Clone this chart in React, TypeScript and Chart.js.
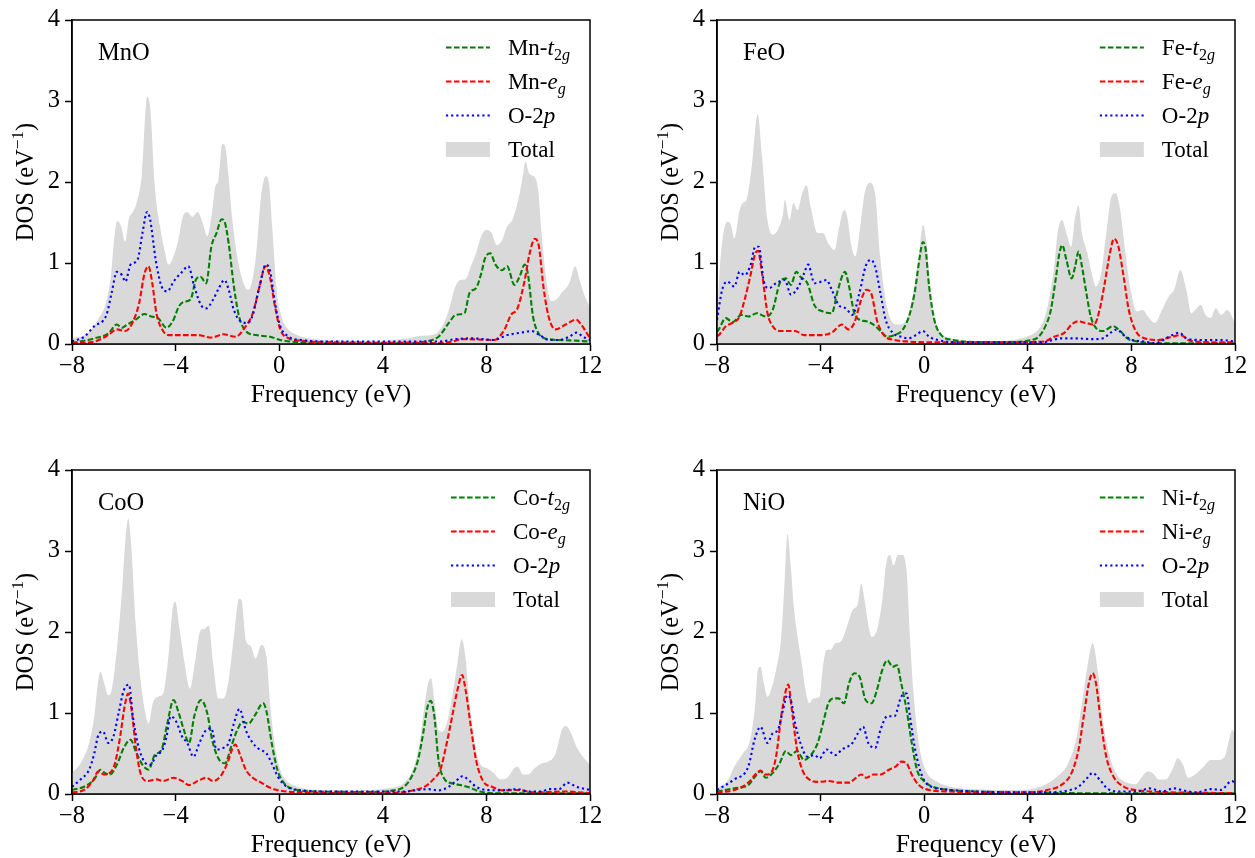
import React, { useEffect, useRef } from 'react';
import { Chart, registerables } from 'chart.js';
Chart.register(...registerables);

const FONT = "'Liberation Serif', 'Times New Roman', serif";

type Pair = [number, number];

// ---------------- MnO ----------------
const mnoT2g: Pair[] = [[-8,0.01],[-7.14,0.07],[-6.6,0.13],[-6.27,0.24],[-6.07,0.2],[-5.87,0.24],[-5.54,0.3],[-5.2,0.37],[-4.94,0.34],[-4.68,0.32],[-4.35,0.2],[-4.08,0.3],[-3.88,0.46],[-3.68,0.52],[-3.42,0.55],[-3.22,0.79],[-3.04,0.83],[-2.82,0.75],[-2.62,1.2],[-2.42,1.37],[-2.22,1.54],[-2.09,1.49],[-1.95,1.24],[-1.75,0.71],[-1.55,0.34],[-1.29,0.16],[-0.89,0.11],[-0.36,0.09],[0.04,0.05],[0.84,0.02],[3,0.01],[5.0,0.015],[5.62,0.03],[6.15,0.09],[6.55,0.26],[6.82,0.36],[7.15,0.38],[7.35,0.63],[7.6,0.69],[7.8,0.87],[7.95,1.06],[8.15,1.12],[8.35,0.98],[8.6,0.91],[8.8,0.96],[9.08,0.73],[9.28,0.83],[9.48,0.98],[9.6,0.87],[9.8,0.34],[10.0,0.14],[10.4,0.06],[11.2,0.045],[12,0.03]];
const mnoEg: Pair[] = [[-8,0.01],[-7.14,0.03],[-6.6,0.11],[-6.27,0.18],[-5.94,0.16],[-5.67,0.26],[-5.41,0.5],[-5.2,0.87],[-5.05,0.96],[-4.9,0.75],[-4.74,0.38],[-4.48,0.16],[-4.21,0.11],[-3.15,0.11],[-2.62,0.08],[-2.15,0.12],[-1.69,0.09],[-1.29,0.22],[-1.02,0.38],[-0.76,0.71],[-0.53,0.96],[-0.36,0.83],[-0.16,0.46],[0.04,0.18],[0.37,0.07],[0.84,0.04],[2,0.02],[5,0.015],[6.15,0.01],[6.68,0.03],[7.08,0.06],[8.3,0.05],[8.7,0.18],[8.95,0.36],[9.2,0.44],[9.48,0.79],[9.67,1.12],[9.87,1.3],[10.03,1.2],[10.2,0.71],[10.4,0.34],[10.67,0.18],[11.06,0.24],[11.47,0.3],[11.66,0.24],[12,0.07]];
const mnoO2p: Pair[] = [[-8,0.03],[-7.53,0.09],[-7.14,0.22],[-6.67,0.36],[-6.47,0.63],[-6.27,0.89],[-6.07,0.85],[-5.94,0.77],[-5.74,0.98],[-5.47,1.04],[-5.28,1.37],[-5.1,1.63],[-4.98,1.53],[-4.77,1.04],[-4.54,0.71],[-4.32,0.65],[-4.08,0.77],[-3.75,0.89],[-3.51,0.96],[-3.28,0.71],[-3.02,0.48],[-2.82,0.44],[-2.55,0.55],[-2.33,0.69],[-2.11,0.79],[-1.95,0.67],[-1.75,0.42],[-1.49,0.28],[-1.22,0.26],[-1.02,0.36],[-0.76,0.71],[-0.52,0.98],[-0.36,0.91],[-0.16,0.5],[0.04,0.22],[0.37,0.09],[0.84,0.05],[2.17,0.03],[6.15,0.03],[6.82,0.06],[7.48,0.07],[8.28,0.05],[8.8,0.11],[9.34,0.14],[9.74,0.16],[10.06,0.11],[10.4,0.05],[10.8,0.05],[11.2,0.09],[11.47,0.14],[11.73,0.09],[12,0.05]];
const mnoTotal: Pair[] = [[-8,0.07],[-7.4,0.13],[-7.0,0.3],[-6.7,0.5],[-6.5,0.83],[-6.35,1.37],[-6.25,1.52],[-6.1,1.45],[-5.95,1.26],[-5.8,1.55],[-5.65,1.63],[-5.5,1.75],[-5.3,2.1],[-5.1,3.05],[-4.98,2.92],[-4.8,1.94],[-4.6,1.45],[-4.4,1.12],[-4.28,0.98],[-4.08,1.08],[-3.9,1.28],[-3.72,1.57],[-3.55,1.63],[-3.35,1.57],[-3.15,1.63],[-2.95,1.49],[-2.78,1.33],[-2.6,1.61],[-2.47,1.94],[-2.35,2.02],[-2.2,2.47],[-2.08,2.43],[-1.95,2.06],[-1.82,1.57],[-1.62,1.08],[-1.42,0.79],[-1.22,0.67],[-1.1,0.71],[-0.9,1.08],[-0.7,1.82],[-0.52,2.07],[-0.4,2.0],[-0.27,1.45],[-0.1,0.67],[0.05,0.38],[0.3,0.2],[0.7,0.11],[1.1,0.07],[2.2,0.045],[3.5,0.03],[4.4,0.05],[5.0,0.07],[5.4,0.1],[5.9,0.11],[6.3,0.22],[6.55,0.42],[6.8,0.71],[7.0,0.79],[7.2,0.8],[7.4,0.96],[7.6,1.12],[7.8,1.33],[8.0,1.41],[8.2,1.37],[8.4,1.22],[8.6,1.28],[8.8,1.45],[9.0,1.53],[9.2,1.74],[9.4,2.06],[9.5,2.25],[9.66,2.1],[9.87,2.06],[10.0,1.9],[10.13,1.37],[10.33,0.75],[10.5,0.53],[10.7,0.55],[10.9,0.63],[11.2,0.75],[11.43,0.96],[11.6,0.79],[11.8,0.59],[12,0.46]];

// ---------------- FeO ----------------
const feoT2g: Pair[] = [[-8,0.15],[-7.93,0.18],[-7.66,0.32],[-7.4,0.27],[-7.06,0.36],[-6.79,0.34],[-6.46,0.38],[-6.12,0.34],[-5.85,0.42],[-5.58,0.75],[-5.34,0.81],[-5.15,0.73],[-4.94,0.89],[-4.78,0.83],[-4.51,0.75],[-4.24,0.48],[-3.9,0.4],[-3.57,0.38],[-3.33,0.67],[-3.06,0.89],[-2.9,0.71],[-2.7,0.38],[-2.5,0.3],[-2.23,0.28],[-1.96,0.24],[-1.69,0.16],[-1.42,0.09],[-1.15,0.11],[-0.82,0.18],[-0.55,0.38],[-0.35,0.67],[-0.17,1.08],[-0.05,1.26],[0.05,1.18],[0.19,0.71],[0.39,0.3],[0.66,0.11],[1.13,0.05],[2.07,0.025],[3.4,0.025],[4.08,0.045],[4.42,0.09],[4.68,0.22],[4.89,0.42],[5.09,0.83],[5.22,1.12],[5.33,1.22],[5.49,1.04],[5.69,0.81],[5.83,0.96],[5.96,1.14],[6.09,0.96],[6.26,0.63],[6.43,0.34],[6.63,0.2],[6.9,0.16],[7.3,0.22],[7.57,0.16],[7.84,0.07],[8.24,0.03],[8.78,0.01],[12,0.01]];
const feoEg: Pair[] = [[-8,0.1],[-7.93,0.11],[-7.66,0.22],[-7.4,0.26],[-7.13,0.34],[-6.93,0.55],[-6.72,0.83],[-6.52,1.12],[-6.42,1.15],[-6.26,0.87],[-6.05,0.38],[-5.85,0.22],[-5.58,0.16],[-4.98,0.16],[-4.64,0.11],[-3.97,0.11],[-3.57,0.14],[-3.17,0.24],[-2.93,0.18],[-2.7,0.26],[-2.43,0.55],[-2.23,0.67],[-2.03,0.61],[-1.83,0.3],[-1.56,0.11],[-1.15,0.05],[-0.62,0.03],[0.72,0.02],[3.4,0.02],[3.95,0.025],[4.62,0.03],[5.02,0.09],[5.42,0.14],[5.69,0.24],[5.93,0.28],[6.23,0.26],[6.56,0.24],[6.77,0.42],[6.97,0.75],[7.17,1.12],[7.33,1.3],[7.5,1.2],[7.7,0.83],[7.9,0.42],[8.17,0.16],[8.51,0.07],[9.05,0.05],[9.58,0.09],[9.92,0.11],[10.19,0.05],[10.8,0.025],[12,0.02]];
const feoO2p: Pair[] = [[-8,0.3],[-7.8,0.67],[-7.6,0.77],[-7.33,0.71],[-7.13,0.89],[-6.93,0.85],[-6.72,0.96],[-6.52,1.2],[-6.39,1.2],[-6.19,0.77],[-5.99,0.69],[-5.72,0.75],[-5.38,0.79],[-5.15,0.61],[-4.85,0.71],[-4.64,0.87],[-4.48,0.98],[-4.24,0.75],[-3.97,0.77],[-3.77,0.79],[-3.57,0.67],[-3.3,0.48],[-3.03,0.44],[-2.77,0.36],[-2.5,0.63],[-2.26,0.96],[-2.07,1.04],[-1.9,0.96],[-1.69,0.63],[-1.49,0.3],[-1.22,0.14],[-0.89,0.09],[-0.62,0.07],[-0.32,0.11],[-0.05,0.16],[0.19,0.09],[0.59,0.045],[1.4,0.02],[4.5,0.02],[4.75,0.03],[5.29,0.07],[5.83,0.07],[6.5,0.06],[6.9,0.07],[7.2,0.14],[7.44,0.18],[7.7,0.11],[8.04,0.05],[8.51,0.03],[8.91,0.01],[9.45,0.09],[9.85,0.14],[10.12,0.07],[10.66,0.05],[11.46,0.05],[12,0.03]];
const feoTotal: Pair[] = [[-8,0.3],[-7.87,1.04],[-7.6,1.51],[-7.46,1.47],[-7.33,1.3],[-7.13,1.65],[-7.0,1.74],[-6.86,1.78],[-6.66,2.19],[-6.43,2.84],[-6.26,2.31],[-6.05,1.53],[-5.85,1.35],[-5.65,1.41],[-5.45,1.61],[-5.38,1.78],[-5.2,1.53],[-5.05,1.74],[-4.89,1.65],[-4.71,1.86],[-4.54,1.96],[-4.38,1.69],[-4.11,1.37],[-3.91,1.37],[-3.7,1.24],[-3.46,1.16],[-3.3,1.41],[-3.1,1.65],[-2.97,1.57],[-2.83,1.24],[-2.66,1.08],[-2.5,1.37],[-2.3,1.86],[-2.1,1.99],[-1.9,1.86],[-1.7,1.08],[-1.49,0.55],[-1.29,0.3],[-1.02,0.24],[-0.68,0.3],[-0.42,0.63],[-0.21,1.08],[-0.05,1.47],[0.08,1.28],[0.26,0.59],[0.46,0.26],[0.72,0.11],[1.26,0.06],[2.07,0.03],[3.4,0.05],[3.95,0.09],[4.35,0.16],[4.62,0.3],[4.82,0.55],[5.02,0.96],[5.15,1.37],[5.32,1.53],[5.49,1.37],[5.67,1.2],[5.83,1.57],[5.96,1.71],[6.09,1.37],[6.3,1.12],[6.47,0.87],[6.63,0.71],[6.83,0.87],[7.03,1.37],[7.23,1.82],[7.4,1.86],[7.57,1.65],[7.77,1.12],[7.97,0.67],[8.21,0.4],[8.44,0.42],[8.64,0.34],[8.91,0.26],[9.18,0.42],[9.45,0.59],[9.65,0.67],[9.89,0.91],[10.12,0.67],[10.32,0.38],[10.52,0.44],[10.68,0.48],[10.86,0.36],[11.06,0.32],[11.26,0.44],[11.46,0.36],[11.7,0.42],[12,0.26]];

// ---------------- CoO ----------------
const cooT2g: Pair[] = [[-8,0.05],[-7.53,0.09],[-7.14,0.18],[-6.9,0.3],[-6.74,0.26],[-6.54,0.24],[-6.27,0.36],[-6.0,0.57],[-5.74,0.67],[-5.54,0.53],[-5.28,0.36],[-5.04,0.3],[-4.81,0.48],[-4.54,0.55],[-4.32,0.87],[-4.08,1.16],[-3.88,1.0],[-3.68,0.79],[-3.48,0.63],[-3.28,0.96],[-3.02,1.16],[-2.78,1.0],[-2.59,0.67],[-2.35,0.44],[-2.09,0.38],[-1.85,0.59],[-1.62,0.79],[-1.42,0.89],[-1.18,0.87],[-0.96,0.96],[-0.62,1.12],[-0.49,1.02],[-0.29,0.63],[-0.07,0.3],[0.17,0.14],[0.57,0.06],[1.5,0.03],[3.5,0.025],[4.43,0.045],[4.82,0.09],[5.09,0.2],[5.36,0.42],[5.56,0.75],[5.73,1.08],[5.85,1.15],[5.99,0.96],[6.15,0.42],[6.35,0.2],[6.68,0.13],[7.0,0.11],[7.35,0.08],[7.75,0.03],[8.28,0.01],[12,0.01]];
const cooEg: Pair[] = [[-8,0.02],[-7.53,0.05],[-7.2,0.16],[-6.98,0.28],[-6.76,0.24],[-6.54,0.26],[-6.34,0.38],[-6.14,0.71],[-5.97,1.08],[-5.83,1.24],[-5.7,1.04],[-5.54,0.59],[-5.34,0.24],[-5.08,0.16],[-4.74,0.18],[-4.48,0.16],[-4.08,0.2],[-3.75,0.16],[-3.48,0.11],[-3.15,0.16],[-2.82,0.2],[-2.55,0.16],[-2.22,0.24],[-1.98,0.4],[-1.82,0.55],[-1.69,0.61],[-1.53,0.5],[-1.29,0.3],[-1.02,0.2],[-0.69,0.14],[-0.43,0.09],[-0.09,0.05],[0.57,0.025],[3.5,0.01],[4.7,0.02],[5.22,0.05],[5.62,0.09],[5.95,0.18],[6.22,0.3],[6.47,0.63],[6.68,0.96],[6.88,1.28],[7.06,1.47],[7.2,1.28],[7.4,0.83],[7.6,0.42],[7.87,0.16],[8.21,0.09],[8.68,0.045],[9.21,0.05],[9.87,0.02],[11.07,0.03],[12,0.01]];
const cooO2p: Pair[] = [[-8,0.09],[-7.67,0.18],[-7.34,0.3],[-7.14,0.5],[-6.98,0.73],[-6.8,0.77],[-6.6,0.63],[-6.4,0.71],[-6.2,1.0],[-6.0,1.28],[-5.8,1.35],[-5.65,0.96],[-5.47,0.63],[-5.21,0.4],[-4.98,0.36],[-4.74,0.48],[-4.5,0.55],[-4.35,0.71],[-4.19,0.96],[-3.97,0.89],[-3.75,0.71],[-3.55,0.63],[-3.31,0.46],[-3.08,0.63],[-2.82,0.79],[-2.62,0.81],[-2.42,0.55],[-2.15,0.57],[-1.95,0.63],[-1.75,0.87],[-1.53,1.05],[-1.29,0.79],[-1.02,0.63],[-0.76,0.55],[-0.49,0.5],[-0.29,0.38],[-0.03,0.2],[0.3,0.09],[0.84,0.045],[2.17,0.03],[4.82,0.03],[5.36,0.05],[5.75,0.06],[6.15,0.045],[6.55,0.09],[6.82,0.16],[7.08,0.22],[7.35,0.16],[7.6,0.09],[8.01,0.05],[8.55,0.045],[9.21,0.06],[9.61,0.03],[10.14,0.03],[10.4,0.06],[10.8,0.06],[11.13,0.14],[11.47,0.09],[12,0.05]];
const cooTotal: Pair[] = [[-8,0.26],[-7.67,0.38],[-7.34,0.63],[-7.14,0.96],[-7.0,1.37],[-6.9,1.51],[-6.76,1.37],[-6.6,1.22],[-6.47,1.28],[-6.27,1.78],[-6.07,2.51],[-5.94,3.13],[-5.83,3.4],[-5.71,3.05],[-5.54,2.1],[-5.34,1.37],[-5.17,1.0],[-5.04,0.87],[-4.88,1.12],[-4.68,1.2],[-4.48,1.24],[-4.28,1.69],[-4.08,2.35],[-4.01,2.37],[-3.84,2.02],[-3.65,1.61],[-3.44,1.3],[-3.26,1.61],[-3.04,2.02],[-2.88,2.04],[-2.72,2.08],[-2.55,1.61],[-2.35,1.18],[-2.15,1.18],[-1.95,1.41],[-1.75,1.94],[-1.55,2.41],[-1.45,2.39],[-1.29,1.9],[-1.09,1.82],[-0.92,1.67],[-0.69,1.84],[-0.49,1.69],[-0.33,1.04],[-0.16,0.59],[0.04,0.3],[0.3,0.16],[0.7,0.09],[1.5,0.05],[2.83,0.045],[4.16,0.07],[4.82,0.14],[5.16,0.3],[5.42,0.63],[5.62,1.12],[5.75,1.37],[5.86,1.43],[5.99,1.16],[6.15,0.79],[6.31,0.77],[6.47,0.87],[6.68,1.2],[6.88,1.61],[7.04,1.91],[7.19,1.69],[7.35,1.12],[7.55,0.63],[7.75,0.38],[8.01,0.32],[8.28,0.26],[8.55,0.18],[8.81,0.2],[9.08,0.32],[9.21,0.34],[9.41,0.24],[9.61,0.24],[9.87,0.32],[10.14,0.38],[10.4,0.4],[10.67,0.5],[10.91,0.79],[11.07,0.84],[11.27,0.75],[11.47,0.59],[11.73,0.46],[12,0.36]];

// ---------------- NiO ----------------
const nioT2g: Pair[] = [[-8,0.03],[-7.33,0.07],[-6.79,0.11],[-6.52,0.22],[-6.32,0.28],[-6.12,0.2],[-5.85,0.26],[-5.58,0.38],[-5.34,0.53],[-5.15,0.48],[-4.91,0.53],[-4.64,0.42],[-4.38,0.48],[-4.11,0.63],[-3.91,0.87],[-3.7,1.12],[-3.5,1.18],[-3.3,1.18],[-3.1,1.12],[-2.9,1.37],[-2.7,1.49],[-2.5,1.45],[-2.26,1.16],[-2.03,1.12],[-1.83,1.28],[-1.62,1.53],[-1.42,1.65],[-1.22,1.57],[-1.05,1.59],[-0.89,1.37],[-0.68,1.04],[-0.48,0.63],[-0.28,0.3],[-0.01,0.16],[0.32,0.09],[1.0,0.05],[2.07,0.03],[4.08,0.02],[6.09,0.01],[12,0.01]];
const nioEg: Pair[] = [[-8,0.02],[-7.33,0.05],[-6.79,0.14],[-6.52,0.24],[-6.32,0.29],[-6.12,0.24],[-5.92,0.26],[-5.72,0.46],[-5.52,0.96],[-5.34,1.28],[-5.25,1.35],[-5.11,1.04],[-4.91,0.55],[-4.71,0.3],[-4.44,0.18],[-4.04,0.15],[-3.7,0.16],[-3.3,0.14],[-2.9,0.14],[-2.63,0.2],[-2.43,0.24],[-2.23,0.2],[-1.96,0.24],[-1.69,0.24],[-1.36,0.3],[-1.09,0.34],[-0.89,0.4],[-0.68,0.38],[-0.48,0.24],[-0.21,0.11],[0.19,0.05],[1.0,0.03],[2.74,0.01],[4.08,0.02],[4.75,0.05],[5.29,0.11],[5.69,0.26],[5.96,0.55],[6.16,0.96],[6.36,1.37],[6.5,1.49],[6.63,1.37],[6.83,0.87],[7.03,0.46],[7.3,0.22],[7.7,0.09],[8.24,0.045],[8.78,0.03],[12,0.01]];
const nioO2p: Pair[] = [[-8,0.05],[-7.33,0.18],[-6.79,0.34],[-6.55,0.67],[-6.32,0.83],[-6.05,0.63],[-5.85,0.75],[-5.65,0.79],[-5.45,1.04],[-5.29,1.22],[-5.15,1.16],[-4.98,0.87],[-4.78,0.63],[-4.51,0.46],[-4.24,0.48],[-4.04,0.44],[-3.77,0.55],[-3.44,0.48],[-3.17,0.55],[-2.77,0.63],[-2.56,0.75],[-2.36,0.83],[-2.16,0.63],[-1.89,0.57],[-1.69,0.79],[-1.42,0.96],[-1.15,0.96],[-0.89,1.2],[-0.68,1.24],[-0.55,0.96],[-0.35,0.55],[-0.08,0.22],[0.26,0.09],[0.72,0.06],[2.07,0.03],[4.75,0.02],[5.56,0.045],[5.96,0.09],[6.3,0.2],[6.5,0.26],[6.77,0.18],[7.1,0.06],[7.57,0.03],[8.24,0.03],[8.71,0.07],[9.18,0.03],[9.65,0.07],[9.99,0.045],[10.52,0.02],[11.06,0.06],[11.46,0.05],[11.87,0.16],[12,0.14]];
const nioTotal: Pair[] = [[-8,0.07],[-7.6,0.16],[-7.33,0.34],[-7.0,0.5],[-6.72,0.67],[-6.52,1.12],[-6.42,1.53],[-6.32,1.57],[-6.19,1.37],[-6.05,1.2],[-5.92,1.28],[-5.72,1.53],[-5.52,1.94],[-5.38,2.68],[-5.28,3.21],[-5.15,2.8],[-5.02,2.27],[-4.85,1.86],[-4.71,1.57],[-4.58,1.28],[-4.44,1.12],[-4.27,1.18],[-4.04,1.2],[-3.91,1.57],[-3.77,1.78],[-3.6,1.78],[-3.44,1.86],[-3.23,1.88],[-3.03,2.02],[-2.77,2.27],[-2.56,2.35],[-2.43,2.6],[-2.3,2.39],[-2.16,2.1],[-2.03,1.94],[-1.83,2.02],[-1.62,2.39],[-1.45,2.88],[-1.32,2.95],[-1.18,2.82],[-1.02,2.95],[-0.86,2.95],[-0.68,2.76],[-0.55,1.94],[-0.42,1.28],[-0.21,0.63],[0.05,0.3],[0.46,0.16],[1.0,0.09],[2.07,0.06],[3.41,0.05],[4.48,0.09],[5.15,0.22],[5.56,0.38],[5.89,0.71],[6.09,1.12],[6.3,1.57],[6.5,1.86],[6.7,1.53],[6.9,0.91],[7.17,0.46],[7.44,0.24],[7.84,0.14],[8.17,0.12],[8.38,0.2],[8.64,0.28],[8.85,0.25],[9.05,0.18],[9.32,0.18],[9.58,0.3],[9.79,0.44],[9.99,0.36],[10.19,0.2],[10.46,0.24],[10.79,0.34],[11.06,0.42],[11.33,0.42],[11.6,0.46],[11.8,0.71],[11.9,0.79],[12,0.75]];

const xTicks = [-8, -4, 0, 4, 8, 12];
const yTicks = [0, 1, 2, 3, 4];

const GREEN = '#008000';
const RED = '#ff0000';
const BLUE = '#0000ff';
const GREY = '#d9d9d9';
const DASH = [5.6, 2.4];
const DOT = [2.2, 3.0];
const LW = 2.1;

type Part = { t: string; it?: boolean; sub?: boolean; sup?: boolean };

function fontFor(p: Part, size: number) {
  const s = p.sub || p.sup ? size * 0.7 : size;
  return `${p.it ? 'italic ' : ''}${s}px ${FONT}`;
}
function measureRich(ctx: CanvasRenderingContext2D, parts: Part[], size: number) {
  let w = 0;
  for (const p of parts) {
    ctx.font = fontFor(p, size);
    w += ctx.measureText(p.t).width;
  }
  return w;
}
function drawRich(ctx: CanvasRenderingContext2D, parts: Part[], x: number, y: number, size: number) {
  let cx = x;
  for (const p of parts) {
    ctx.font = fontFor(p, size);
    const dy = p.sub ? size * 0.22 : p.sup ? -size * 0.4 : 0;
    ctx.fillText(p.t, cx, y + dy);
    cx += ctx.measureText(p.t).width;
  }
}

type PanelCfg = {
  name: string;
  el: string;
  t2g: Pair[];
  eg: Pair[];
  o2p: Pair[];
  total: Pair[];
  box: { left: number; top: number; width: number; height: number };
  area: { l: number; t: number; r: number; b: number };
};

const panels: PanelCfg[] = [
  { name: 'MnO', el: 'Mn', t2g: mnoT2g, eg: mnoEg, o2p: mnoO2p, total: mnoTotal,
    box: { left: 0, top: 0, width: 627, height: 425 }, area: { l: 72, t: 20, r: 590, b: 344 } },
  { name: 'FeO', el: 'Fe', t2g: feoT2g, eg: feoEg, o2p: feoO2p, total: feoTotal,
    box: { left: 627, top: 0, width: 628, height: 425 }, area: { l: 717, t: 20, r: 1235, b: 344 } },
  { name: 'CoO', el: 'Co', t2g: cooT2g, eg: cooEg, o2p: cooO2p, total: cooTotal,
    box: { left: 0, top: 425, width: 627, height: 433 }, area: { l: 72, t: 470, r: 590, b: 794 } },
  { name: 'NiO', el: 'Ni', t2g: nioT2g, eg: nioEg, o2p: nioO2p, total: nioTotal,
    box: { left: 627, top: 425, width: 628, height: 433 }, area: { l: 717, t: 470, r: 1235, b: 794 } },
];

const fmt = (v: number) => (v < 0 ? '\u2212' + Math.abs(v) : String(v));

function makeDecor(p: PanelCfg) {
  return {
    id: 'decor' + p.name,
    afterDraw(chart: any) {
      const ctx: CanvasRenderingContext2D = chart.ctx;
      const { left, top, right, bottom } = chart.chartArea;
      ctx.save();
      // frame
      ctx.strokeStyle = '#000';
      ctx.lineWidth = 1.5;
      ctx.setLineDash([]);
      ctx.strokeRect(left, top, right - left, bottom - top);
      ctx.fillStyle = '#000';
      ctx.textBaseline = 'alphabetic';
      ctx.textAlign = 'left';
      // panel label
      ctx.font = `24.5px ${FONT}`;
      ctx.fillText(p.name, left + 26, top + 40);
      // x title
      const xt: Part[] = [{ t: 'Frequency (eV)' }];
      const xw = measureRich(ctx, xt, 25.5);
      drawRich(ctx, xt, (left + right) / 2 - xw / 2, bottom + 58, 25.5);
      // y title
      ctx.save();
      ctx.translate(left - 47, (top + bottom) / 2);
      ctx.rotate(-Math.PI / 2);
      const yt: Part[] = [{ t: 'DOS (eV' }, { t: '\u22121', sup: true }, { t: ')' }];
      const yw = measureRich(ctx, yt, 24.5);
      drawRich(ctx, yt, -yw / 2, 8, 24.5);
      ctx.restore();
      // legend
      const rows: { parts: Part[]; kind: 'line' | 'patch'; color: string; dash?: number[] }[] = [
        { parts: [{ t: p.el + '-' }, { t: 't', it: true }, { t: '2', sub: true }, { t: 'g', sub: true, it: true }], kind: 'line', color: GREEN, dash: DASH },
        { parts: [{ t: p.el + '-' }, { t: 'e', it: true }, { t: 'g', sub: true, it: true }], kind: 'line', color: RED, dash: DASH },
        { parts: [{ t: 'O-2' }, { t: 'p', it: true }], kind: 'line', color: BLUE, dash: DOT },
        { parts: [{ t: 'Total' }], kind: 'patch', color: GREY },
      ];
      const LS = 23;
      let maxW = 0;
      for (const r of rows) maxW = Math.max(maxW, measureRich(ctx, r.parts, LS));
      const textX = right - 20 - maxW;
      const lineEnd = textX - 18;
      const lineStart = lineEnd - 44;
      rows.forEach((r, i) => {
        const cy = top + 27.5 + i * 34;
        if (r.kind === 'line') {
          ctx.beginPath();
          ctx.strokeStyle = r.color;
          ctx.lineWidth = LW;
          ctx.setLineDash(r.dash || []);
          ctx.moveTo(lineStart, cy);
          ctx.lineTo(lineEnd, cy);
          ctx.stroke();
          ctx.setLineDash([]);
        } else {
          ctx.fillStyle = r.color;
          ctx.fillRect(lineStart, cy - 7.5, lineEnd - lineStart, 15);
        }
        ctx.fillStyle = '#000';
        drawRich(ctx, r.parts, textX, cy + 7.5, LS);
      });
      ctx.restore();
    },
  };
}

function Panel({ p }: { p: PanelCfg }) {
  const ref = useRef<HTMLCanvasElement>(null);
  useEffect(() => {
    const canvas = ref.current!;
    const toXY = (arr: Pair[]) => arr.map(([x, y]) => ({ x, y }));
    const lineDs = (label: string, data: Pair[], color: string, dash: number[], order: number) => ({
      label,
      data: toXY(data),
      borderColor: color,
      borderDash: dash,
      borderWidth: LW,
      pointRadius: 0,
      fill: false,
      order,
      cubicInterpolationMode: 'monotone' as const,
    });
    const xAxisH = p.box.top + p.box.height - p.area.b;
    const yAxisW = p.area.l - p.box.left;
    const tickFont = { family: FONT, size: 24.5 };
    const chart = new Chart(canvas, {
      type: 'line',
      data: {
        datasets: [
          lineDs(p.el + '-t2g', p.t2g, GREEN, DASH, 3),
          lineDs(p.el + '-eg', p.eg, RED, DASH, 2),
          lineDs('O-2p', p.o2p, BLUE, DOT, 1),
          {
            label: 'Total',
            data: toXY(p.total),
            borderColor: 'rgba(0,0,0,0)',
            borderWidth: 0,
            backgroundColor: GREY,
            fill: 'origin',
            pointRadius: 0,
            order: 4,
            cubicInterpolationMode: 'monotone' as const,
          },
        ] as any,
      },
      options: {
        responsive: false,
        animation: false,
        devicePixelRatio: 1,
        layout: {
          padding: {
            left: 0,
            top: p.area.t - p.box.top,
            right: p.box.left + p.box.width - p.area.r,
            bottom: 0,
          },
        },
        plugins: { legend: { display: false }, tooltip: { enabled: false } },
        scales: {
          x: {
            type: 'linear',
            min: xTicks[0],
            max: xTicks[xTicks.length - 1],
            afterBuildTicks: (s: any) => { s.ticks = xTicks.map((v) => ({ value: v })); },
            ticks: { font: tickFont, color: '#000', padding: 1, maxRotation: 0, autoSkip: false, callback: (v: any) => fmt(Number(v)) },
            grid: { drawOnChartArea: false, drawTicks: true, tickLength: 7, color: '#000', tickWidth: 1.5 },
            border: { display: true, color: '#000', width: 1.5 },
            afterFit: (s: any) => { s.height = xAxisH; },
          },
          y: {
            type: 'linear',
            min: yTicks[0],
            max: yTicks[yTicks.length - 1],
            afterBuildTicks: (s: any) => { s.ticks = yTicks.map((v) => ({ value: v })); },
            ticks: { font: tickFont, color: '#000', padding: 5, autoSkip: false, callback: (v: any) => fmt(Number(v)) },
            grid: { drawOnChartArea: false, drawTicks: true, tickLength: 7, color: '#000', tickWidth: 1.5 },
            border: { display: true, color: '#000', width: 1.5 },
            afterFit: (s: any) => { s.width = yAxisW; },
          },
        },
      } as any,
      plugins: [makeDecor(p)],
    });
    return () => chart.destroy();
  }, [p]);
  return (
    <canvas
      ref={ref}
      width={p.box.width}
      height={p.box.height}
      style={{ position: 'absolute', left: p.box.left, top: p.box.top, width: p.box.width, height: p.box.height }}
    />
  );
}

export default function App() {
  return (
    <div style={{ position: 'fixed', left: 0, top: 0, width: 1255, height: 858, background: '#fff' }}>
      {panels.map((p) => (
        <Panel key={p.name} p={p} />
      ))}
    </div>
  );
}
